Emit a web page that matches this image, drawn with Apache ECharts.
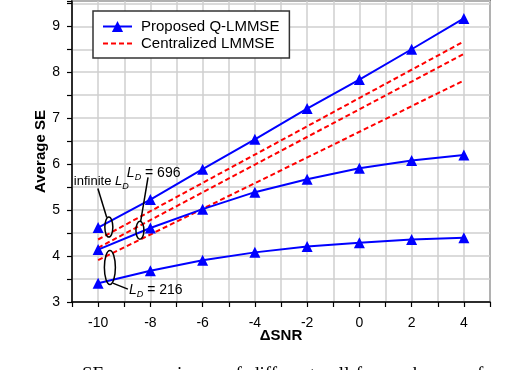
<!DOCTYPE html>
<html>
<head>
<meta charset="utf-8">
<script src="https://cdn.jsdelivr.net/npm/echarts@6/dist/echarts.min.js"></script>
<style>
  html, body { margin: 0; padding: 0; background: #fff; }
  #main { width: 516px; height: 370px; }
</style>
</head>
<body>
<div id="main"></div>
<script>
// data
var snr = [-10, -8, -6, -4, -2, 0, 2, 4];
var qInf = [4.62, 5.23, 5.89, 6.54, 7.21, 7.84, 8.50, 9.17];
var q696 = [4.14, 4.61, 5.02, 5.39, 5.67, 5.91, 6.08, 6.20];
var q216 = [3.41, 3.68, 3.91, 4.08, 4.21, 4.29, 4.36, 4.40];

// centralized LMMSE are straight lines, endpoints only
var cenX = [-10, 4];
var cenInf = [4.36, 8.67];
var cen696 = [4.18, 8.40];
var cen216 = [3.91, 7.82];

var xTicks = [-10, -8, -6, -4, -2, 0, 2, 4];
var yTicks = [3, 4, 5, 6, 7, 8, 9];

var captionWords = ['Average', 'SE', 'comparison', 'of', 'different', 'cell-free', 'schemes', 'for'];

var BLUE = '#0000ff';
var RED = '#ff0000';
var FONT = '"Liberation Sans", Arial, sans-serif';

function pairs(xs, ys) {
    return xs.map(function (x, i) { return [x, ys[i]]; });
}

var myChart = echarts.init(document.getElementById('main'));

function qSeries(ys) {
    return {
        name: 'Proposed Q-LMMSE',
        type: 'line',
        data: pairs(snr, ys),
        symbol: 'triangle',
        symbolSize: 11,
        lineStyle: { color: BLUE, width: 2 },
        itemStyle: { color: BLUE },
        z: 4
    };
}
function cSeries(ys) {
    return {
        name: 'Centralized LMMSE',
        type: 'line',
        data: pairs(cenX, ys),
        symbol: 'none',
        lineStyle: { color: RED, width: 2, type: [5, 3] },
        itemStyle: { color: RED },
        z: 3
    };
}

var option = {
    animation: false,
    backgroundColor: '#fff',
    grid: {
        left: 72, right: 26, top: 1, bottom: 68,
        show: true, borderColor: '#222', borderWidth: 1.5
    },
    legend: {
        data: [
            { name: 'Proposed Q-LMMSE' },
            { name: 'Centralized LMMSE', itemStyle: { opacity: 0 } }
        ],
        orient: 'vertical',
        left: 93, top: 11,
        padding: [8, 10, 7, 9],
        itemGap: 2,
        itemWidth: 29,
        itemHeight: 14,
        backgroundColor: '#fff',
        borderColor: '#333',
        borderWidth: 1.5,
        textStyle: { fontFamily: FONT, fontSize: 15, color: '#000', padding: [0, 0, 0, 4] },
        z: 20
    },
    xAxis: {
        type: 'value',
        min: -11, max: 5, interval: 1,
        name: 'ΔSNR',
        nameLocation: 'middle',
        nameGap: 26,
        nameMoveOverlap: false,
        nameTextStyle: { fontFamily: FONT, fontSize: 15, fontWeight: 'bold', color: '#000' },
        axisLine: { onZero: false, lineStyle: { color: '#000', width: 1.5 } },
        axisTick: { show: true, inside: false, length: 5, lineStyle: { color: '#000', width: 1.2 } },
        axisLabel: {
            fontFamily: FONT, fontSize: 14, color: '#000', margin: 14,
            formatter: function (v) { return xTicks.indexOf(v) >= 0 ? String(v) : ''; }
        },
        splitLine: { show: true, lineStyle: { color: '#cfcfcf', width: 1.5 } }
    },
    yAxis: {
        type: 'value',
        min: 3, max: 9.55, interval: 0.5,
        name: 'Average SE',
        nameLocation: 'middle',
        nameGap: 24,
        nameMoveOverlap: false,
        nameTextStyle: { fontFamily: FONT, fontSize: 15, fontWeight: 'bold', color: '#000' },
        axisLine: { show: true, onZero: false, lineStyle: { color: '#000', width: 1.5 } },
        axisTick: { show: true, inside: false, length: 5, lineStyle: { color: '#000', width: 1.2 } },
        axisLabel: {
            fontFamily: FONT, fontSize: 14, color: '#000', margin: 12,
            formatter: function (v) { return yTicks.indexOf(v) >= 0 ? String(v) : ''; }
        },
        splitLine: { show: true, lineStyle: { color: '#cfcfcf', width: 1.5 } }
    },
    series: [
        qSeries(qInf), qSeries(q696), qSeries(q216),
        cSeries(cenInf), cSeries(cen696), cSeries(cen216)
    ]
};
myChart.setOption(option);

// annotations, placed in data coordinates
function px(p) { return myChart.convertToPixel({ gridIndex: 0 }, p); }

function ellipse(c, rx, ry) {
    var p = px(c);
    return {
        type: 'ellipse', z: 30,
        shape: { cx: p[0], cy: p[1], rx: rx, ry: ry },
        style: { fill: null, stroke: '#000', lineWidth: 1.5 }
    };
}
function pointer(a, b) {
    var p = px(a), q = px(b);
    return {
        type: 'line', z: 30,
        shape: { x1: p[0], y1: p[1], x2: q[0], y2: q[1] },
        style: { stroke: '#000', lineWidth: 1.5 }
    };
}
var richLD = {
    n: { fontFamily: FONT, fontSize: 14, color: '#000', lineHeight: 18 },
    i: { fontFamily: FONT, fontSize: 14, fontStyle: 'italic', color: '#000', lineHeight: 18 },
    s: { fontFamily: FONT, fontSize: 9, fontStyle: 'italic', color: '#000', lineHeight: 9, verticalAlign: 'bottom' }
};
function label(at, text, size) {
    var p = px(at);
    var rich = JSON.parse(JSON.stringify(richLD));
    if (size) { rich.n.fontSize = size; rich.i.fontSize = size; }
    return {
        type: 'text', z: 30, x: p[0], y: p[1],
        style: { text: text, rich: rich, align: 'left', verticalAlign: 'middle' }
    };
}

var graphics = [
    ellipse([-9.59, 4.63], 4, 10),
    ellipse([-8.40, 4.56], 4, 9),
    ellipse([-9.55, 3.75], 5.5, 17),
    pointer([-10.01, 5.47], [-9.67, 4.84]),
    pointer([-8.09, 5.71], [-8.37, 4.76]),
    pointer([-9.44, 3.41], [-8.86, 3.28]),
    label([-10.93, 5.62], '{n|infinite }{i|L}{s|D}', 13),
    label([-8.90, 5.80], '{i|L}{s|D}{n| = 696}'),
    label([-8.82, 3.26], '{i|L}{s|D}{n| = 216}')
];

// clipped caption below the figure
var captionX = [-12, 82, 120, 226, 250, 322, 397, 477];
captionWords.forEach(function (w, k) {
    graphics.push({
        type: 'text', z: 30, x: captionX[k], y: 375,
        style: {
            text: w, fill: '#000',
            font: '19px "Liberation Serif", "Times New Roman", serif',
            align: 'left', verticalAlign: 'middle'
        }
    });
});

myChart.setOption({ graphic: graphics });
</script>
</body>
</html>
